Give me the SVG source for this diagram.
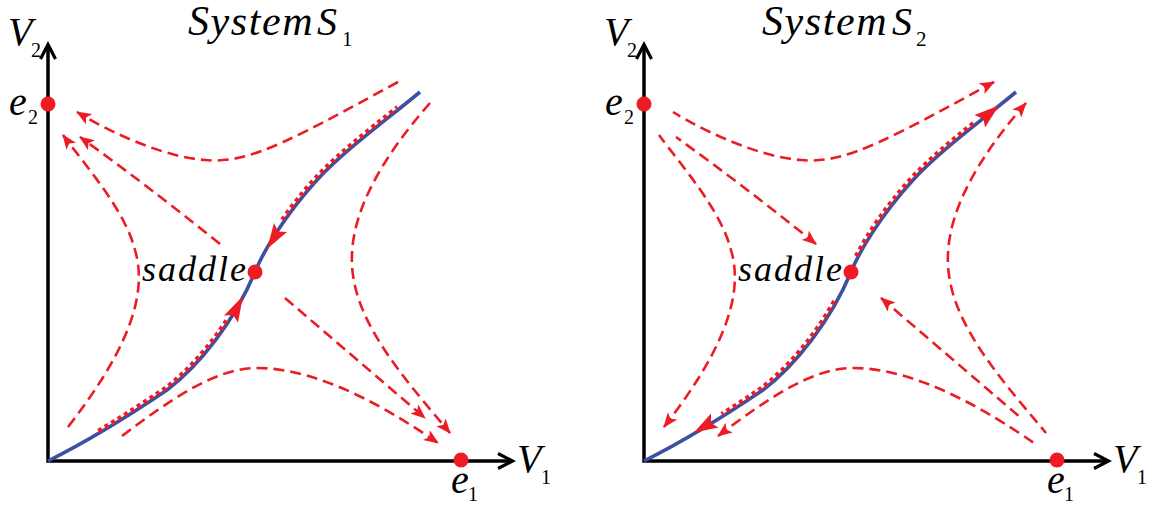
<svg xmlns="http://www.w3.org/2000/svg" width="1151" height="506" viewBox="0 0 1151 506">
<defs>
<marker id="ar" markerUnits="userSpaceOnUse" markerWidth="15" markerHeight="12" viewBox="0 0 15 12" refX="14" refY="6" orient="auto-start-reverse">
<path d="M0,0 L15,6 L0,12 L3.5,6 Z" fill="#ED1C24"/>
</marker>
<path id="blueCurve" d="M48,461 C90,440 130,415 167,390 C200,365 235,320 255,272 C263,252 285,215 317,180 C345,150 380,125 420,92"/>
<g id="axesShape" fill="none" stroke="#000">
<path stroke-width="3.5" d="M48,47 L48,461 L510,461"/>
<path stroke-width="3.2" d="M40.5,59 L48,44.5 L55.5,59"/>
<path stroke-width="3.2" d="M498,453.5 L512.5,461 L498,468.5"/>
</g>
</defs>

<g id="titles">
<text x="188" y="35" style="font-family:'Liberation Serif',serif;font-style:italic;font-size:42px;letter-spacing:1.6px">System</text>
<text x="317" y="35" style="font-family:'Liberation Serif',serif;font-style:italic;font-size:40px">S</text>
<text x="342" y="46" style="font-family:'Liberation Serif',serif;font-style:normal;font-size:21px">1</text>
<text x="762" y="35" style="font-family:'Liberation Serif',serif;font-style:italic;font-size:42px;letter-spacing:1.6px">System</text>
<text x="892" y="35" style="font-family:'Liberation Serif',serif;font-style:italic;font-size:40px">S</text>
<text x="916" y="46" style="font-family:'Liberation Serif',serif;font-style:normal;font-size:21px">2</text>
</g>

<g id="panel1">
<g id="axes1">
<use href="#axesShape"/>
<text x="8" y="45" style="font-family:'Liberation Serif',serif;font-style:italic;font-size:40px">V</text>
<text x="31" y="57" style="font-family:'Liberation Serif',serif;font-style:normal;font-size:20px">2</text>
<text x="517" y="472" style="font-family:'Liberation Serif',serif;font-style:italic;font-size:40px">V</text>
<text x="541" y="484" style="font-family:'Liberation Serif',serif;font-style:normal;font-size:20px">1</text>
</g>
<g id="connectors1">
<g fill="none" stroke="#ED1C24" stroke-width="2.6" stroke-dasharray="11 6" marker-end="url(#ar)">
<path d="M398,82 C300,135 250,165 205,160 C165,157 115,135 77,112"/>
<path d="M220,244 Q148,186 80,137"/>
<path d="M68,427 C120,360 150,300 135,250 C125,210 85,165 63,135"/>
<path d="M122,436 C170,400 215,368 257,368 C320,368 390,410 438,443"/>
<path d="M430,103 C380,160 345,220 353,275 C360,330 410,385 450,433"/>
<path d="M285,298 L425,418"/>
</g>
<use href="#blueCurve" fill="none" stroke="#3D51A1" stroke-width="3.6"/>
<g transform="translate(-1.5,-2)" fill="none" stroke="#ED1C24" stroke-width="4.4" stroke-dasharray="4 3.6">
<path d="M99.8,432.9 C123.1,419.2 145.5,404.5 167,390 C188.5,373.8 210.8,349.1 229.2,320.6"/>
<path d="M283.7,221.8 C293,208.3 304.2,194 317,180 C340,155.4 367.6,134.2 398.9,109.1"/>
</g>
<g fill="#ED1C24">
<path d="M243,296 L238,322.5 L233,315 L224,315.5 Z"/>
<path d="M267,249 L287,232 L278,231.5 L274,223 Z"/>
</g>
</g>
<g id="e2-1">
<circle fill="#ED1C24" cx="48" cy="104" r="7.5"/>
<text x="9" y="115" style="font-family:'Liberation Serif',serif;font-style:italic;font-size:40px">e</text>
<text x="28" y="124" style="font-family:'Liberation Serif',serif;font-style:normal;font-size:20px">2</text>
</g>
<g id="e1-1">
<circle fill="#ED1C24" cx="461" cy="460" r="7.5"/>
<text x="451" y="493" style="font-family:'Liberation Serif',serif;font-style:italic;font-size:40px">e</text>
<text x="468" y="501" style="font-family:'Liberation Serif',serif;font-style:normal;font-size:20px">1</text>
</g>
<g id="saddle-1">
<circle fill="#ED1C24" cx="255" cy="272" r="7.5"/>
<text x="142" y="281" style="font-family:'Liberation Serif',serif;font-style:italic;font-size:36px;letter-spacing:2px">saddle</text>
</g>
</g>

<g id="panel2" transform="translate(596,0)">
<g id="axes2">
<use href="#axesShape"/>
<text x="8" y="45" style="font-family:'Liberation Serif',serif;font-style:italic;font-size:40px">V</text>
<text x="31" y="57" style="font-family:'Liberation Serif',serif;font-style:normal;font-size:20px">2</text>
<text x="517" y="472" style="font-family:'Liberation Serif',serif;font-style:italic;font-size:40px">V</text>
<text x="541" y="484" style="font-family:'Liberation Serif',serif;font-style:normal;font-size:20px">1</text>
</g>
<g id="connectors2">
<g fill="none" stroke="#ED1C24" stroke-width="2.6" stroke-dasharray="11 6" marker-start="url(#ar)">
<path d="M398,82 C300,135 250,165 205,160 C165,157 115,135 77,112"/>
<path d="M220,244 Q148,186 80,137"/>
<path d="M68,427 C120,360 150,300 135,250 C125,210 85,165 63,135"/>
<path d="M122,436 C170,400 215,368 257,368 C320,368 390,410 438,443"/>
<path d="M430,103 C380,160 345,220 353,275 C360,330 410,385 450,433"/>
<path d="M285,298 L425,418"/>
</g>
<use href="#blueCurve" fill="none" stroke="#3D51A1" stroke-width="3.6"/>
<g transform="translate(-1.5,-2)" fill="none" stroke="#ED1C24" stroke-width="4.4" stroke-dasharray="4 3.6">
<path d="M261.5,258.1 C272.2,237.3 291.4,208 317,180 C335.2,160.5 356.4,143.1 379.9,124.3"/>
<path d="M239.8,303.1 C219.7,338.8 192.7,370.5 167,390 C154.1,398.8 140.7,407.7 127.1,416.1"/>
</g>
<g fill="#ED1C24">
<path d="M403,105.5 L389,127.5 L387.5,119 L378.5,115 Z"/>
<path d="M98,432.5 L122.5,427.5 L115,423 L115,413.5 Z"/>
</g>
</g>
<g id="e2-2">
<circle fill="#ED1C24" cx="48" cy="104" r="7.5"/>
<text x="9" y="115" style="font-family:'Liberation Serif',serif;font-style:italic;font-size:40px">e</text>
<text x="28" y="124" style="font-family:'Liberation Serif',serif;font-style:normal;font-size:20px">2</text>
</g>
<g id="e1-2">
<circle fill="#ED1C24" cx="461" cy="460" r="7.5"/>
<text x="451" y="493" style="font-family:'Liberation Serif',serif;font-style:italic;font-size:40px">e</text>
<text x="468" y="501" style="font-family:'Liberation Serif',serif;font-style:normal;font-size:20px">1</text>
</g>
<g id="saddle-2">
<circle fill="#ED1C24" cx="255" cy="272" r="7.5"/>
<text x="142" y="281" style="font-family:'Liberation Serif',serif;font-style:italic;font-size:36px;letter-spacing:2px">saddle</text>
</g>
</g>
</svg>
